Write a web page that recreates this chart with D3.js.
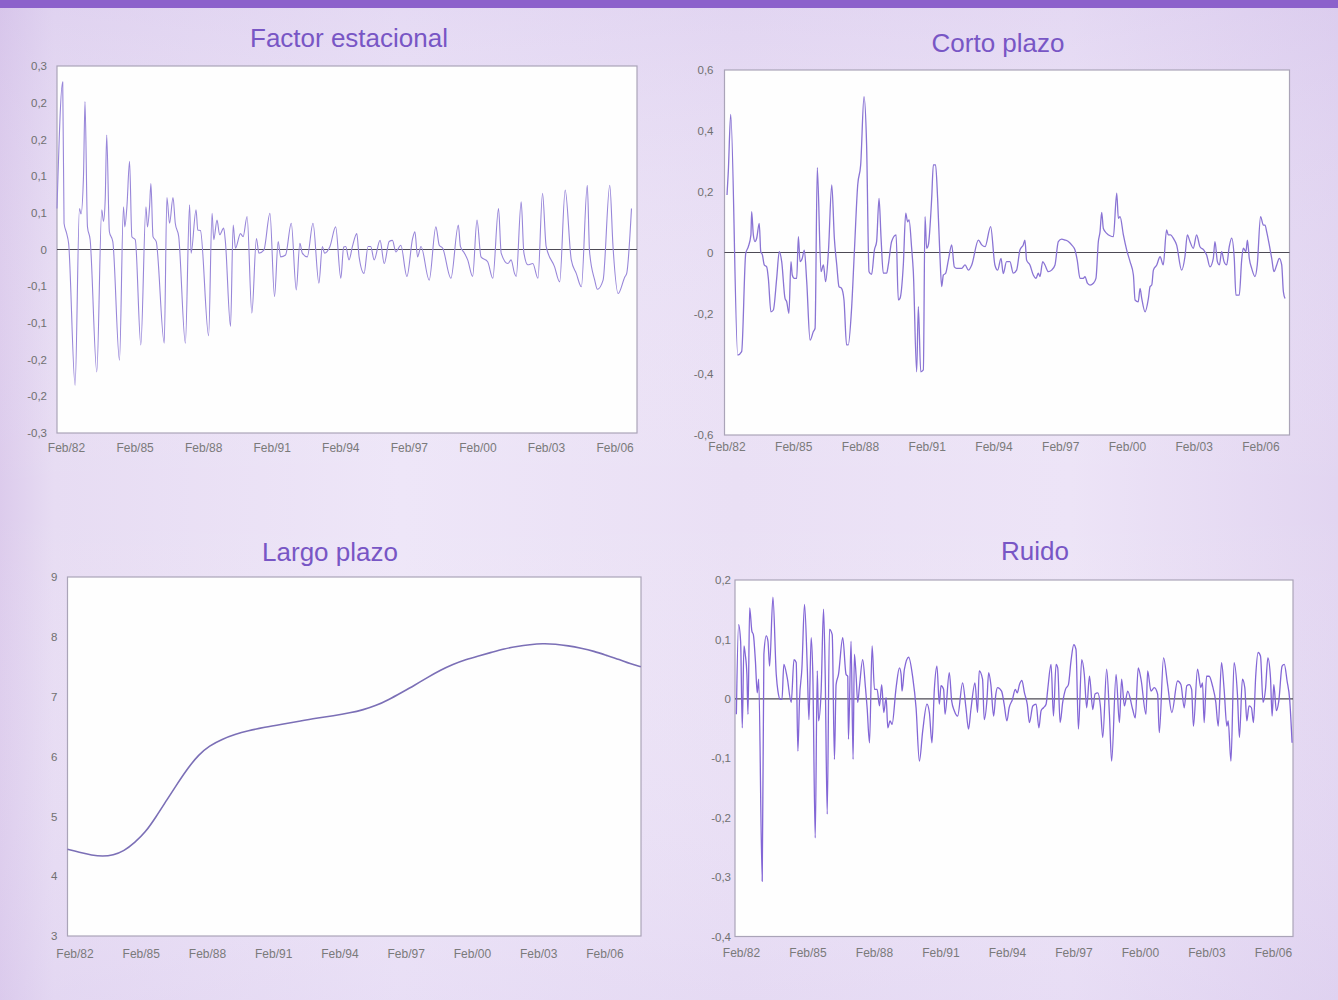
<!DOCTYPE html>
<html>
<head>
<meta charset="utf-8">
<script src="https://cdn.jsdelivr.net/npm/d3@7"></script>
<style>
  html, body { margin: 0; padding: 0; background: #ebe1f5; }
  svg { display: block; }
</style>
</head>
<body>
<svg id="chart" width="1338" height="1000"></svg>
<script>
// ---------- DATA (months counted from Feb/82 = 0) ----------
const xTickMonths = [0, 36, 72, 108, 144, 180, 216, 252, 288];
const xTickLabels = ["Feb/82", "Feb/85", "Feb/88", "Feb/91", "Feb/94", "Feb/97", "Feb/00", "Feb/03", "Feb/06"];

const titles = ["Factor estacional", "Corto plazo", "Largo plazo", "Ruido"];

const estacionalTicks = [0.3, 0.24, 0.18, 0.12, 0.06, 0, -0.06, -0.12, -0.18, -0.24, -0.3];
const estacionalTickLabels = ["0,3", "0,2", "0,2", "0,1", "0,1", "0", "-0,1", "-0,1", "-0,2", "-0,2", "-0,3"];
const cortoTicks = [0.6, 0.4, 0.2, 0, -0.2, -0.4, -0.6];
const cortoTickLabels = ["0,6", "0,4", "0,2", "0", "-0,2", "-0,4", "-0,6"];
const largoTicks = [9, 8, 7, 6, 5, 4, 3];
const largoTickLabels = ["9", "8", "7", "6", "5", "4", "3"];
const ruidoTicks = [0.2, 0.1, 0, -0.1, -0.2, -0.3, -0.4];
const ruidoTickLabels = ["0,2", "0,1", "0", "-0,1", "-0,2", "-0,3", "-0,4"];

// [month, value]
const factorEstacional = [
  [0,0.067],[3,0.274],[3.7,0.043],[5.1,0.026],[6.1,0.010],[9.5,-0.222],[11.8,0.067],[12.6,0.058],[13.9,0.119],[14.7,0.242],
  [16,0.037],[17.4,0.016],[20.9,-0.200],[23.5,0.065],[24.4,0.046],[25.3,0.081],[26.1,0.187],[27.5,0.029],[29.3,0.013],[32.8,-0.181],
  [34.9,0.070],[35.6,0.037],[36.7,0.070],[38.1,0.144],[39.3,0.021],[41.1,0.016],[44,-0.156],[46.7,0.070],[47.5,0.037],[48.6,0.070],
  [49.3,0.108],[50.4,0.021],[52.1,0.013],[56.3,-0.153],[57.7,0.085],[59.1,0.043],[60.9,0.085],[62.1,0.043],[63.9,0.021],[67.4,-0.153],
  [69.6,0.073],[70.4,-0.006],[73,0.065],[73.9,0.032],[75.3,0.031],[79.6,-0.141],[81.4,0.059],[82.3,0.016],[84,0.048],[85.4,0.024],
  [87.5,0.035],[88.4,0.013],[91.1,-0.126],[92.5,0.040],[93.7,0.002],[96.3,0.026],[97.7,0.021],[99.8,0.054],[102.3,-0.104],[104.7,0.018],
  [106,-0.006],[108.6,-0.001],[111.8,0.059],[114.2,-0.077],[116.1,0.013],[117.4,-0.012],[120,-0.009],[123,0.043],[125.6,-0.066],[127.5,0.010],
  [128.8,-0.006],[131.4,-0.012],[134.4,0.043],[137.5,-0.055],[139.3,0.005],[140.5,-0.006],[143.3,0.005],[146.3,0.037],[149,-0.047],[150.5,0.004],
  [151.6,0.005],[153.3,-0.017],[155.1,0.005],[157.4,0.026],[158.6,-0.012],[161.2,-0.039],[163.3,0.005],[164.7,0.005],[166.5,-0.017],[169.6,0.015],
  [171.8,-0.023],[174.4,0.013],[176.1,0.015],[177.9,-0.004],[180.5,0.007],[183.7,-0.044],[186.7,0.018],[187.9,0.029],[189.3,-0.012],[191.1,0.005],
  [195.4,-0.050],[198.9,0.037],[200.7,0.007],[202.5,0.002],[206.8,-0.047],[210.7,0.040],[211.8,0.005],[213.9,-0.006],[215.6,-0.017],[218.2,-0.044],
  [220.5,0.048],[222.6,-0.012],[226.1,-0.020],[228.8,-0.047],[231.8,0.067],[233.2,-0.006],[236.7,-0.023],[238.4,-0.017],[240.2,-0.039],[241.1,-0.044],
  [243.7,0.078],[245.1,-0.005],[247.2,-0.025],[249.8,-0.023],[252.5,-0.047],[254.9,0.092],[256.8,0.005],[261.2,-0.028],[263.9,-0.053],[266.8,0.097],
  [270,-0.017],[272.6,-0.039],[275.3,-0.061],[278.4,0.105],[279.6,-0.004],[282.3,-0.050],[283.7,-0.065],[286.7,-0.050],[290.2,0.105],[291.9,0.005],
  [294.6,-0.072],[298.1,-0.045],[299.1,-0.039],[301.6,0.067]
];

const cortoPlazo = [
  [0,0.189],[0.7,0.266],[2,0.454],[5.8,-0.337],[7.9,-0.326],[10.1,-0.003],[11.5,0.019],[12.9,0.058],[13.3,0.134],[14.2,0.058],
  [15.1,0.036],[16,0.047],[17.4,0.096],[18.2,0.003],[19.1,-0.008],[20.1,-0.041],[21.4,-0.047],[22.3,-0.085],[23.7,-0.195],[25,-0.189],
  [26.8,-0.085],[28.2,0.003],[29.5,-0.030],[31.3,-0.151],[32.2,-0.162],[33.4,-0.200],[34.5,-0.030],[35.2,-0.074],[36.3,-0.085],[37.6,-0.085],
  [38.5,0.052],[39.4,-0.030],[40.6,-0.019],[41.7,0.008],[43,-0.096],[44.8,-0.288],[46.6,-0.260],[47.5,-0.249],[48.7,0.279],[50.7,-0.063],
  [52,-0.041],[53.2,-0.096],[54.7,0.003],[56.5,0.222],[57.9,0.047],[59.2,-0.041],[60.4,-0.112],[61.8,-0.118],[63.1,-0.156],[64.5,-0.304],
  [65.4,-0.304],[67.2,-0.184],[68.7,0.003],[70.5,0.222],[72.1,0.288],[73.9,0.512],[75.3,0.353],[76.6,-0.063],[78,-0.072],[79.5,0.008],
  [80.7,0.036],[82,0.178],[83.1,0.047],[84.3,-0.068],[86.1,-0.068],[87,-0.041],[88.8,0.036],[91.2,0.058],[92.4,-0.156],[93.3,-0.151],
  [95.1,-0.041],[96.4,0.129],[97.4,0.101],[98.2,0.107],[99.6,0.014],[100.5,-0.063],[102.3,-0.392],[103.2,-0.178],[104.5,-0.392],[105.9,-0.386],
  [106.8,0.118],[107.7,0.014],[108.6,0.025],[110.4,0.178],[111.3,0.288],[112.5,0.288],[113.6,0.178],[114.9,-0.019],[115.8,-0.112],[116.7,-0.074],
  [117.9,-0.069],[119.4,-0.025],[121.2,0.025],[122.6,-0.047],[123.9,-0.052],[126.6,-0.052],[128.4,-0.041],[130.2,-0.058],[132,-0.041],[135.6,0.041],
  [137.4,0.025],[139.2,0.019],[142.2,0.085],[144.5,-0.041],[146,-0.058],[147.8,-0.019],[149,-0.069],[150.8,-0.030],[152.6,-0.030],[154.4,-0.068],
  [156.2,-0.058],[158,0.008],[159.8,0.025],[160.7,0.041],[161.6,-0.025],[163.4,-0.041],[165.2,-0.074],[166.7,-0.085],[167.9,-0.068],[168.8,-0.079],
  [170.3,-0.030],[171.5,-0.041],[173.3,-0.063],[175.1,-0.058],[176.9,-0.041],[178.7,0.036],[180.5,0.044],[182.3,0.041],[184.1,0.036],[185.9,0.025],
  [187.7,0.008],[188.9,-0.025],[190.4,-0.085],[192.2,-0.085],[193.1,-0.079],[194.4,-0.101],[195.8,-0.107],[197.6,-0.101],[199,-0.085],[200.3,0.036],
  [201.2,0.068],[202.1,0.132],[203,0.079],[204.8,0.063],[206.6,0.055],[208.4,0.052],[210.2,0.195],[211.1,0.112],[212,0.118],[213.8,0.058],
  [215.6,0.008],[217.4,-0.030],[219.2,-0.074],[220.1,-0.156],[221.8,-0.162],[222.8,-0.118],[223.7,-0.151],[225.5,-0.195],[227.3,-0.151],[228.2,-0.112],
  [229.1,-0.107],[230,-0.058],[231.8,-0.041],[233.6,-0.014],[235.3,-0.041],[237.1,0.074],[238,0.058],[239.3,0.058],[240.7,0.047],[242.5,0.025],
  [245.2,-0.058],[247,-0.014],[248.3,0.058],[249.7,0.036],[251.5,0.014],[253.3,0.058],[255.1,0.019],[257.2,0.008],[258.7,-0.008],[260.5,-0.047],
  [262.3,-0.019],[263.2,0.036],[264.5,-0.030],[265.6,-0.041],[266.8,0.003],[268.1,-0.030],[269.5,-0.041],[270.9,0.019],[272.2,0.047],[273.6,-0.019],
  [274.5,-0.140],[276.3,-0.140],[277.6,-0.025],[278.5,0.014],[279.9,0.003],[280.7,0.041],[281.7,-0.019],[283,-0.052],[284.8,-0.079],[286,-0.041],
  [287.8,0.118],[289.3,0.090],[290.2,0.090],[291.1,0.068],[292.5,0.025],[293.8,-0.019],[295,-0.063],[296.5,-0.041],[297.9,-0.019],[299.2,-0.041],
  [300.1,-0.129],[301,-0.151]
];

const largoPlazo = [
  [0,4.45],[6.3,4.40],[13.3,4.35],[19.1,4.33],[24.8,4.35],[30.7,4.42],[36.5,4.56],[42.3,4.73],[48.1,4.99],[53.9,5.27],
  [59.8,5.55],[65.5,5.81],[71.3,6.03],[77.1,6.18],[84.1,6.29],[91,6.37],[98,6.43],[107.3,6.49],[116.6,6.54],[125.9,6.59],
  [135.2,6.64],[144.4,6.68],[153.7,6.73],[160.7,6.78],[167.7,6.85],[174.6,6.95],[181.6,7.07],[188.6,7.19],[195.6,7.32],[202.5,7.44],
  [209.5,7.54],[216.4,7.62],[223.4,7.68],[230.4,7.74],[237.3,7.80],[244.3,7.84],[251.3,7.87],[258.2,7.89],[265.2,7.88],[272.2,7.85],
  [279.1,7.81],[286.1,7.76],[293,7.69],[300,7.62],[305.8,7.55],[311.6,7.50]
];

const ruido = [
  [0.2,-0.026],[1.4,0.125],[2.5,0.097],[3.4,-0.049],[4.3,0.089],[5,0.075],[5.9,0.041],[6.5,-0.026],[7.4,0.153],[8.6,0.114],
  [9.4,0.108],[10.5,0.064],[11.5,0.010],[12.3,0.033],[14.2,-0.307],[15.1,0.075],[16.4,0.106],[17.3,0.097],[18.2,0.055],[20,0.171],
  [21.8,0.041],[22.7,0.013],[24,-0.001],[24.9,-0.001],[25.9,0.058],[27.7,0.036],[29.9,-0.006],[31.4,0.066],[32.6,0.061],[33.5,-0.088],
  [34.4,-0.001],[35.7,0.052],[37.1,0.159],[38.6,0.052],[39.5,-0.035],[40.7,0.103],[41.6,0.041],[42.9,-0.234],[44,0.047],[44.7,-0.037],
  [46.1,0.013],[47.4,0.151],[48.3,0.041],[49.4,-0.194],[50.6,0.117],[52.1,0.108],[53.3,-0.102],[54.2,0.024],[55.5,0.041],[57.8,0.103],
  [59.6,0.041],[60.5,0.038],[60.9,-0.068],[62.3,0.097],[63.4,-0.102],[64.1,0.075],[65,0.041],[65.9,-0.006],[66.8,0.019],[68.6,0.066],
  [70.1,0.019],[71,-0.015],[72.3,-0.074],[73.7,0.089],[75,0.016],[76.4,0.016],[77.7,-0.012],[78.9,0.024],[80,-0.023],[81.3,0.002],
  [82.2,-0.049],[83.4,-0.037],[84.5,-0.043],[86.7,0.019],[88.5,0.052],[89.4,0.041],[89.9,0.013],[91.2,0.050],[93.5,0.070],[95.7,0.036],
  [97.5,-0.015],[99.3,-0.105],[101.1,-0.054],[103.4,-0.009],[104.7,-0.023],[106.1,-0.074],[107.4,0.016],[108.8,0.055],[110.1,-0.009],[111,0.022],
  [112.4,0.016],[113.2,-0.026],[115.5,0.044],[116.8,-0.004],[118.2,-0.020],[120,-0.029],[122.7,0.027],[124.5,-0.015],[125.9,-0.051],[127.2,-0.018],
  [129.4,0.027],[130.8,-0.023],[131.7,0.047],[133.5,0.033],[134.4,-0.035],[135.9,-0.001],[136.8,0.044],[138,0.024],[139.5,-0.029],[140.7,0.008],
  [141.6,0.019],[143.8,0.013],[145.2,-0.009],[146.7,-0.037],[147.9,-0.015],[149.7,-0.001],[151.2,0.016],[152.3,0.010],[153.5,0.024],[154.8,0.031],
  [156.2,0.010],[157.7,-0.009],[158.9,-0.040],[160.7,-0.012],[162.5,-0.009],[164,-0.049],[165.2,-0.020],[166.5,-0.015],[167.9,-0.009],[168.8,0.016],
  [170.6,0.058],[171.9,-0.029],[173.3,0.058],[174.2,0.052],[175.5,-0.040],[176.9,-0.006],[178.4,0.016],[180,0.024],[181.4,0.064],[182.9,0.091],
  [184.1,0.083],[185.4,-0.051],[187.2,0.066],[188.6,0.041],[189.9,-0.015],[191.4,0.038],[193.2,-0.018],[194.4,0.008],[195.9,0.010],[197.3,-0.012],
  [198.6,-0.065],[200.7,0.050],[202.2,-0.026],[203.4,-0.105],[205.8,0.041],[207.6,-0.040],[208.8,0.033],[210.3,-0.012],[212.1,0.013],[214.8,-0.018],
  [216.2,-0.032],[217.8,0.052],[219.3,0.033],[222,-0.026],[222.9,0.047],[224.7,0.013],[226.5,0.019],[228.3,0.008],[229.2,-0.057],[231.5,0.069],
  [233.7,0.024],[236,-0.023],[239.1,0.030],[240.9,0.024],[242.7,-0.015],[244.1,0.022],[245.4,0.024],[246.7,0.016],[247.7,-0.046],[249.9,0.050],
  [251.7,0.019],[252.6,0.027],[253.5,-0.040],[254.8,0.038],[256.2,0.038],[258,0.022],[259.8,-0.006],[261.1,-0.046],[262.9,0.061],[264.3,0.016],
  [265.8,-0.046],[266.5,-0.037],[268,-0.105],[269.7,0.061],[271.5,0.008],[272.6,-0.065],[274.2,0.033],[275.5,0.019],[276.6,-0.037],[277.8,-0.012],
  [279.1,-0.015],[280.2,-0.040],[281.4,0.038],[282.7,0.078],[284,0.072],[285.4,-0.006],[286.7,0.016],[288,0.069],[289.4,0.036],[290.3,-0.029],
  [291.2,0.024],[292.6,-0.020],[293.9,-0.004],[295.7,0.055],[296.9,0.058],[298.4,0.030],[299.8,-0.001],[301.1,-0.074]
];

// ---------- LAYOUT ----------
const W = 1338, H = 1000;
const svg = d3.select("#chart");
const FONT = "'Liberation Sans', Arial, Helvetica, sans-serif";

const defs = svg.append("defs");
const bg = defs.append("linearGradient").attr("id", "bg").attr("x1", "0").attr("x2", "1").attr("y1", "0").attr("y2", "0");
[[0, "#dccbec"], [0.04, "#e7dcf3"], [0.3, "#eee6f8"], [0.55, "#eae0f5"], [0.8, "#ede4f7"], [1, "#e2d5f1"]]
  .forEach(([o, c]) => bg.append("stop").attr("offset", o).attr("stop-color", c));
const bgv = defs.append("linearGradient").attr("id", "bgv").attr("x1", "0").attr("x2", "0").attr("y1", "0").attr("y2", "1");
[[0, "rgba(200,180,230,0.25)"], [0.5, "rgba(255,255,255,0)"], [1, "rgba(215,200,238,0.25)"]]
  .forEach(([o, c]) => bgv.append("stop").attr("offset", o).attr("stop-color", c));

svg.append("rect").attr("width", W).attr("height", H).attr("fill", "url(#bg)");
svg.append("rect").attr("width", W).attr("height", H).attr("fill", "url(#bgv)");
svg.append("rect").attr("x", 0).attr("y", 0).attr("width", W).attr("height", 8).attr("fill", "#8c61cb");

const panels = [
  { data: factorEstacional, title: titles[0], titleX: 349, titleY: 47,
    left: 57, right: 637, top: 66, bottom: 433, xDomain: [0, 304.5], yDomain: [-0.3, 0.3],
    yTicks: estacionalTicks, yLabels: estacionalTickLabels, yGap: 10, xShift: 9, xPad: 10,
    zero: true, color: "#9886d9", width: 1.1, curve: d3.curveMonotoneX },
  { data: cortoPlazo, title: titles[1], titleX: 998, titleY: 52,
    left: 724.5, right: 1289.5, top: 70, bottom: 435, xDomain: [-1.35, 303.4], yDomain: [-0.6, 0.6],
    yTicks: cortoTicks, yLabels: cortoTickLabels, yGap: 11, xShift: -0.5, xPad: 7,
    zero: true, color: "#8a74d4", width: 1.3, curve: d3.curveMonotoneX },
  { data: largoPlazo, title: titles[2], titleX: 330, titleY: 561,
    left: 67.5, right: 641, top: 577, bottom: 936, xDomain: [0, 311.7], yDomain: [3, 9],
    yTicks: largoTicks, yLabels: largoTickLabels, yGap: 10, xShift: 7, xPad: 13,
    zero: false, color: "#7b6fb6", width: 1.6, curve: d3.curveBasis },
  { data: ruido, title: titles[3], titleX: 1035, titleY: 560,
    left: 735, right: 1293, top: 580, bottom: 936.5, xDomain: [-0.54, 301.6], yDomain: [-0.4, 0.2],
    yTicks: ruidoTicks, yLabels: ruidoTickLabels, yGap: 4, xShift: 5, xPad: 12,
    zero: true, color: "#8366d6", width: 1.3, curve: d3.curveMonotoneX }
];

panels.forEach(p => {
  const g = svg.append("g");
  const x = d3.scaleLinear().domain(p.xDomain).range([p.left, p.right]);
  const y = d3.scaleLinear().domain(p.yDomain).range([p.bottom, p.top]);

  // title
  g.append("text").attr("x", p.titleX).attr("y", p.titleY).attr("text-anchor", "middle")
    .attr("font-family", FONT).attr("font-size", 26).attr("fill", "#7856c5").text(p.title);

  // plot area
  g.append("rect").attr("x", p.left).attr("y", p.top)
    .attr("width", p.right - p.left).attr("height", p.bottom - p.top)
    .attr("fill", "#fefefe").attr("stroke", "#aaa4b8").attr("stroke-width", 1.2);

  // zero line
  if (p.zero) {
    g.append("line").attr("x1", p.left).attr("x2", p.right)
      .attr("y1", y(0)).attr("y2", y(0)).attr("stroke", "#4d4a55").attr("stroke-width", 1.2);
  }

  // series
  const line = d3.line().x(d => x(d[0])).y(d => y(d[1])).curve(p.curve);
  g.append("path").datum(p.data).attr("d", line).attr("fill", "none")
    .attr("stroke", p.color).attr("stroke-width", p.width).attr("stroke-linejoin", "round");

  // y axis labels
  const ya = g.append("g").attr("transform", `translate(${p.left},0)`)
    .call(d3.axisLeft(y).tickValues(p.yTicks).tickFormat((d, i) => p.yLabels[i]).tickSize(0).tickPadding(p.yGap));
  ya.select(".domain").remove();
  ya.selectAll("text").attr("font-family", FONT).attr("font-size", 11.5).attr("fill", "#707070");

  // x axis labels
  const xa = g.append("g").attr("transform", `translate(${p.xShift},${p.bottom})`)
    .call(d3.axisBottom(x).tickValues(xTickMonths).tickFormat((d, i) => xTickLabels[i]).tickSize(0).tickPadding(p.xPad));
  xa.select(".domain").remove();
  xa.selectAll("text").attr("font-family", FONT).attr("font-size", 12).attr("fill", "#7a7a7a");
});
</script>
</body>
</html>
